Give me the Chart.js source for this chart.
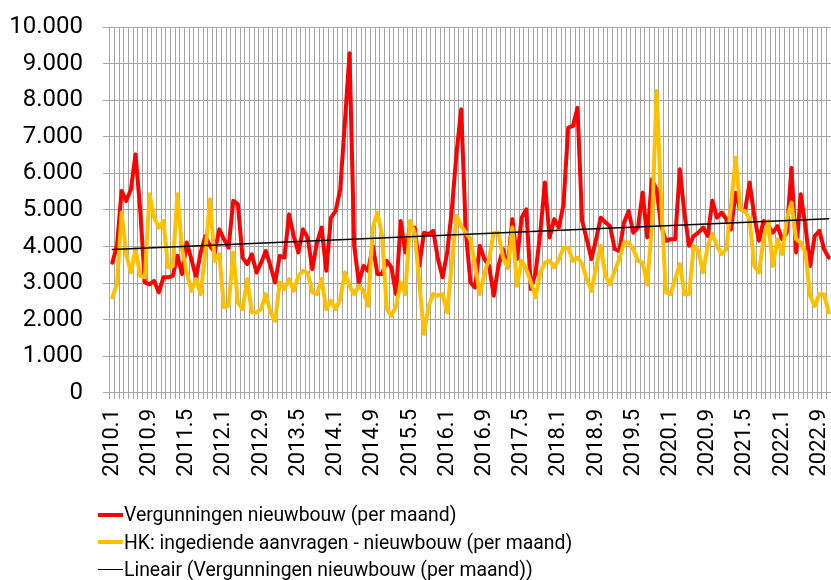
<!DOCTYPE html>
<html lang="nl">
<head>
<meta charset="utf-8">
<script src="https://cdn.jsdelivr.net/npm/chart.js@4"></script>
<style>
  html, body { margin: 0; padding: 0; background: #fff; }
  #wrap { position: relative; width: 831px; height: 580px; }
  #legend { position: absolute; left: 98px; top: 501px; font-family: Roboto, sans-serif; font-size: 19.4px; color: #000; }
  .leg-row { display: flex; align-items: center; height: 27.5px; white-space: nowrap; }
  .leg-line { width: 25px; margin-right: 1px; }
</style>
</head>
<body>
<div id="wrap">
  <canvas id="chart" width="831" height="580"></canvas>
  <div id="legend"></div>
</div>
<script>
// maanden 2010.1 t/m 2022.11
const START_YEAR = 2010;
const N_MONTHS   = 155;

const SHOWN_TICKS = [
  '2010.1','2010.9','2011.5','2012.1','2012.9','2013.5','2014.1','2014.9','2015.5','2016.1',
  '2016.9','2017.5','2018.1','2018.9','2019.5','2020.1','2020.9','2021.5','2022.1','2022.9',
];

const vergunningen = [
  3560,4020,5520,5250,5560,6520,5000,3020,2970,3060,2750,3160,
  3160,3200,3750,3250,4110,3660,3160,3840,4290,4020,3840,4470,
  4200,3970,5250,5160,3700,3520,3790,3290,3560,3880,3470,3020,
  3750,3700,4880,4290,3840,4470,4250,3380,4110,4520,3340,4790,
  4970,5560,7400,9280,4020,3020,3470,3340,4020,3250,3250,3610,
  3430,2700,4700,3840,4560,4520,3470,4380,4340,4430,3660,3160,
  3840,5020,6560,7750,4400,3020,2880,4020,3660,3470,2660,3470,
  3930,3430,4750,3660,4790,5020,2840,3290,4380,5750,4250,4750,
  4520,5160,7250,7290,7790,4700,4200,3660,4200,4790,4660,4560,
  3930,3880,4660,4970,4380,4520,5470,4250,5840,5560,4560,4160,
  4200,4200,6110,4900,4020,4290,4380,4520,4290,5250,4790,4930,
  4750,4470,5470,5020,4970,5750,4840,4160,4700,4560,4380,4560,
  4200,4380,6150,3840,5430,4560,3470,4290,4430,3930,3700,
];

const aanvragen = [
  2610,2970,4930,3790,3290,3930,3200,3160,5430,4790,4520,4700,
  3430,3470,5430,3930,3290,2790,3110,2700,3840,5290,3610,3790,
  2340,2380,3840,2470,2290,3110,2200,2200,2290,2700,2200,1970,
  3020,2840,3110,2790,3200,3340,3290,2750,2700,3110,2290,2520,
  2290,2560,3290,2930,2700,2930,2790,2380,4520,4930,4290,2290,
  2110,2380,3020,2700,4700,4380,3020,1610,2380,2700,2660,2700,
  2200,3560,4840,4560,4380,4200,3470,2700,3290,3660,4380,4380,
  3700,3430,4520,2930,3610,3380,3020,2610,3290,3560,3610,3430,
  3660,3970,3970,3610,3700,3520,3110,2790,3430,4020,3200,2970,
  3340,3660,4110,4110,3930,3610,3560,2970,4560,8250,5200,2750,
  2700,3110,3520,2700,2700,4020,3880,3300,4020,4340,4020,3790,
  3930,5110,6430,5020,4970,4750,3470,3290,4200,4700,3470,4200,
  3790,4750,5200,4200,4110,3840,2660,2380,2700,2700,2200,
];

const TREND_START = 3920;
const TREND_END   = 4760;

const months = [];
for (let i = 0; i < N_MONTHS; i++) {
  months.push((START_YEAR + Math.floor(i / 12)) + '.' + (i % 12 + 1));
}

const trend = months.map((m, i) => i === 0 ? TREND_START : i === N_MONTHS - 1 ? TREND_END : null);

const GRID = '#a6a6a6';
const fmtNum = v => String(v).replace(/\B(?=(\d{3})+(?!\d))/g, '.');

const datasets = [
  { label: 'Vergunningen nieuwbouw (per maand)', data: vergunningen, borderColor: '#ff0000', borderWidth: 4, order: 3 },
  { label: 'HK: ingediende aanvragen - nieuwbouw (per maand)', data: aanvragen, borderColor: '#ffc000', borderWidth: 4, order: 2 },
  { label: 'Lineair (Vergunningen nieuwbouw (per maand))', data: trend, borderColor: '#000000', borderWidth: 1.3, spanGaps: true, order: 1 },
];

const ctx = document.getElementById('chart').getContext('2d');
new Chart(ctx, {
  type: 'line',
  data: { labels: months, datasets },
  options: {
    responsive: false,
    animation: false,
    layout: { padding: { left: -10.8, top: 27, right: 0, bottom: 93.4 } },
    elements: {
      point: { radius: 0 },
      line: { tension: 0, borderJoinStyle: 'round', borderCapStyle: 'round' },
    },
    plugins: { legend: { display: false }, tooltip: { enabled: false } },
    scales: {
      x: {
        offset: true,
        grid: { offset: true, color: GRID, tickLength: 6 },
        border: { color: GRID },
        ticks: {
          autoSkip: false, minRotation: 90, maxRotation: 90, padding: 10,
          color: '#000',
          font: { family: 'Roboto', size: 22 },
          callback: (v, i) => SHOWN_TICKS.includes(months[i]) ? months[i] : '',
        },
        // plot loopt door tot de rechterrand
        afterFit: s => { s.paddingRight = 0; },
      },
      y: {
        min: 0, max: 10000,
        grid: { color: GRID, tickLength: 7 },
        border: { color: GRID },
        ticks: {
          stepSize: 1000, padding: 20,
          color: '#000', font: { family: 'Roboto', size: 24 },
          callback: v => fmtNum(v),
        },
        afterFit: s => { s.paddingTop = 0; s.paddingBottom = 0; },
      },
    },
  },
});

// legenda onder elkaar, zoals in Excel
const legend = document.getElementById('legend');
datasets.forEach(d => {
  const row = document.createElement('div');
  row.className = 'leg-row';
  row.innerHTML = `<span class="leg-line" style="height:${d.borderWidth}px;background:${d.borderColor}"></span><span>${d.label}</span>`;
  legend.appendChild(row);
});
</script>
</body>
</html>
